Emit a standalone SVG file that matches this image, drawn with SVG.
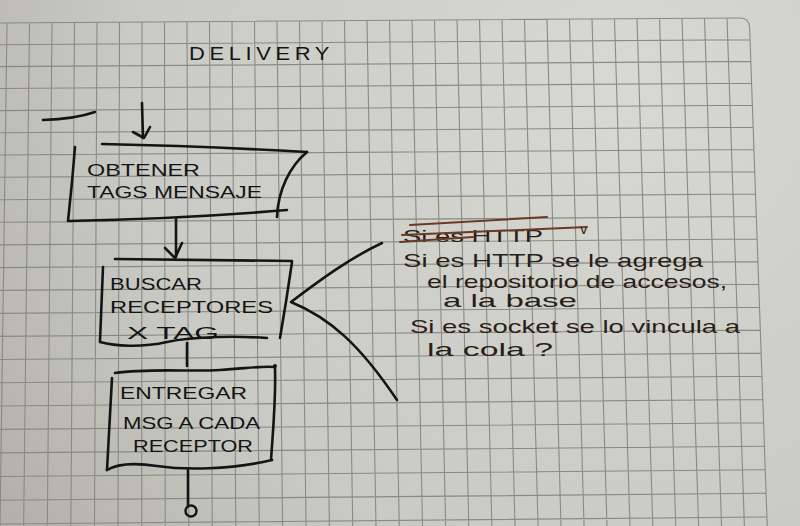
<svg xmlns="http://www.w3.org/2000/svg" width="800" height="526" viewBox="0 0 800 526">
  <defs>
    <radialGradient id="paper" cx="620" cy="90" r="820" gradientUnits="userSpaceOnUse">
      <stop offset="0" stop-color="#d8d8d4"/>
      <stop offset="0.6" stop-color="#cacac4"/>
      <stop offset="1" stop-color="#aaaaa2"/>
    </radialGradient>
    <style>
      .grid { fill: none; stroke: #8a8a84; stroke-width: 1.1; }
      .ink { fill: none; stroke: #141414; stroke-width: 2.6; stroke-linecap: round; stroke-linejoin: round; }
      .box { font-family: "Liberation Sans", Arial, sans-serif; font-size: 17px; fill: #141414; }
      .title { font-family: "Liberation Sans", Arial, sans-serif; font-size: 19px; fill: #141414; letter-spacing: 4px; }
      .note { font-family: "Liberation Sans", Arial, sans-serif; font-size: 19px; fill: #2a1e18; }
      .strike { fill: none; stroke: #6a3a26; stroke-width: 2; stroke-linecap: round; }
    </style>
  </defs>

  <!-- paper -->
  <rect x="0" y="0" width="800" height="526" fill="url(#paper)"/>

  <!-- grid -->
  <path class="grid" d="
    M7,23 L0,526 M29.5,22.8 L23.65,526 M52,22.7 L47.3,526 M74.5,22.5 L70.85,526
    M97,22.4 L94.5,526 M119.5,22.2 L118.05,526 M142,22.1 L141.7,526 M164.5,21.9 L165.25,526
    M187,21.8 L188.8,526 M209.5,21.6 L212.25,526 M232,21.5 L235.8,526 M254.5,21.3 L259.25,526
    M277,21.2 L282.6,526 M299.5,21 L306.05,526 M322,20.9 L329.4,526 M344.5,20.7 L352.75,526
    M367,20.6 L376,526 M389.5,20.4 L399.25,526 M412,20.3 L422.5,526 M434.5,20.1 L445.65,526
    M457,20 L468.8,526 M479.5,19.8 L491.85,526 M502,19.7 L515,526 M524.5,19.5 L538.05,526
    M547,19.4 L561,526 M569.5,19.2 L584.05,526 M592,19.1 L607,526 M614.5,18.9 L629.95,526
    M637,18.8 L652.8,526 M659.5,18.6 L675.75,526 M682,18.5 L698.6,526 M704.5,18.3 L721.55,526
    M727,18.2 L744.4,526
    M0,23 L740,18 Q749,18 749.6,27 L767.25,526
    M0,44.75 L750.2,39.7 M0,66.6 L751,61.4 M0,88.5 L751.7,83.2 M0,110.6 L752.5,105.2
    M0,132.7 L753.3,127.2 M0,155 L754,149.5 M0,177.3 L754.8,171.7 M0,199.7 L755.6,194
    M0,222.3 L756.4,216.5 M0,244.9 L757.2,239 M0,267.6 L758,261.6 M0,290.4 L758.8,284.3
    M0,313.4 L759.6,307.2 M0,336.4 L760.4,330.1 M0,359.5 L761.2,353.1 M0,382.7 L762,376.2
    M0,406 L762.8,399.5 M0,429.4 L763.6,422.8 M0,452.9 L764.4,446.2 M0,476.5 L765.2,469.7
    M0,500.2 L766.1,493.3 M0,524 L766.9,517"/>

  <!-- title -->
  <g id="title">
    <text class="title" x="189" y="60" textLength="145" lengthAdjust="spacingAndGlyphs">DELIVERY</text>
  </g>

  <!-- start mark -->
  <g id="start">
    <path class="ink" d="M43,120 Q75,119 95,112"/>
  </g>

  <!-- node 1 -->
  <g id="n1">
    <path class="ink" d="M102,144 Q200,146 307,152"/>
    <path class="ink" d="M307,152 C290,166 278,190 277,217"/>
    <path class="ink" d="M75,147 L72,182 L68,221 Q180,219 287,210"/>
    <text class="box" x="87" y="176" textLength="113" lengthAdjust="spacingAndGlyphs">OBTENER</text>
    <text class="box" x="87" y="198" textLength="175" lengthAdjust="spacingAndGlyphs">TAGS MENSAJE</text>
  </g>

  <!-- node 2 -->
  <g id="n2">
    <path class="ink" d="M115,259 L292,261"/>
    <path class="ink" d="M103,267 L100,341"/>
    <path class="ink" d="M100,342 C115,346 140,348 167,342 S240,336 267,338"/>
    <path class="ink" d="M292,262 C288,290 284,315 280,338"/>
    <text class="box" x="110" y="290" textLength="92" lengthAdjust="spacingAndGlyphs">BUSCAR</text>
    <text class="box" x="110" y="313" textLength="163" lengthAdjust="spacingAndGlyphs">RECEPTORES</text>
    <text class="box" x="127" y="339" textLength="92" lengthAdjust="spacingAndGlyphs">X TAG</text>
  </g>

  <!-- node 3 -->
  <g id="n3">
    <path class="ink" d="M115,373 C150,368 190,372 220,370 S260,366 275,367"/>
    <circle cx="275" cy="366" r="2" fill="#141414"/>
    <path class="ink" d="M112,378 L107,470"/>
    <path class="ink" d="M107,470 C115,465 130,462 157,466 S230,470 272,460"/>
    <path class="ink" d="M275,368 C276,400 273,430 271,460"/>
    <text class="box" x="120" y="399" textLength="127" lengthAdjust="spacingAndGlyphs">ENTREGAR</text>
    <text class="box" x="123" y="429" textLength="137" lengthAdjust="spacingAndGlyphs">MSG A CADA</text>
    <text class="box" x="133" y="452" textLength="120" lengthAdjust="spacingAndGlyphs">RECEPTOR</text>
  </g>

  <!-- note -->
  <g id="note">
    <path class="ink" d="M382,243 C350,258 320,280 291,302 C330,318 360,345 397,400"/>
    <text class="note" x="403" y="242" textLength="140" lengthAdjust="spacingAndGlyphs" style="font-size:17px">Si es HTTP</text>
    <text class="note" x="580" y="234" style="font-size:15px">v</text>
    <path class="strike" d="M410,225 L547,217 M402,235 L587,227 M400,242 L473,237"/>
    <text class="note" x="403" y="267" textLength="300" lengthAdjust="spacingAndGlyphs">Si es HTTP se le agrega</text>
    <text class="note" x="427" y="288" textLength="300" lengthAdjust="spacingAndGlyphs">el repositorio de accesos,</text>
    <text class="note" x="443" y="307" textLength="134" lengthAdjust="spacingAndGlyphs">a la base</text>
    <text class="note" x="410" y="333" textLength="330" lengthAdjust="spacingAndGlyphs">Si es socket se lo vincula a</text>
    <text class="note" x="427" y="356" textLength="126" lengthAdjust="spacingAndGlyphs">la cola ?</text>
  </g>

  <!-- connectors -->
  <g id="connectors">
    <path class="ink" d="M142,103 L143,138"/>
    <path class="ink" d="M133,132 L144,138 L150,127"/>
    <path class="ink" d="M176,219 L176,257"/>
    <path class="ink" d="M165,248 L175,258 L182,243"/>
    <path class="ink" d="M187,343 L187,366"/>
    <path class="ink" d="M188,470 L188,505"/>
    <circle cx="191" cy="511" r="5.5" fill="none" stroke="#141414" stroke-width="2.4"/>
  </g>
</svg>
